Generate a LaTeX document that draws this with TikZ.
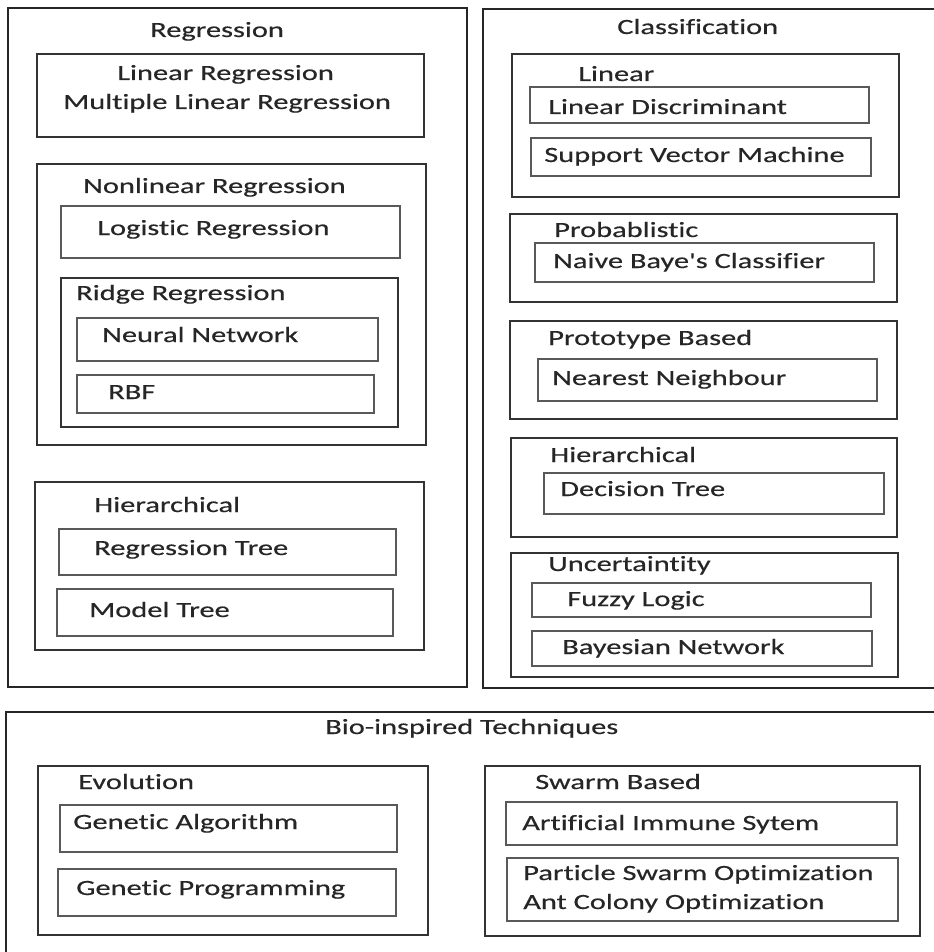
\documentclass[tikz,border=0pt]{standalone}
\usepackage{fontspec}
\setmainfont{Carlito}[FakeStretch=1.4,FakeBold=0.4,Ligatures={NoCommon,TeXOff}]
\begin{document}
\begin{tikzpicture}[x=0.75pt,y=-0.75pt,
  outer/.style={draw=black!85,line width=1.5pt},
  group/.style={draw=black!80,line width=1.4pt},
  item/.style={draw=black!65,line width=1.1pt},
  lbl/.style={anchor=base west,inner sep=0pt,text=black!85,font=\fontsize{16.3}{19}\selectfont}]
\clip (0,0) rectangle (934,952);
\fill[white] (0,0) rectangle (934,952);
% regression column
\draw[outer] (8,8) rectangle (467,687);
\node[lbl] (regr) at (150,37) {Regression};
\draw[group] (37,54) rectangle (424,137);
\node[lbl] (linreg) at (117,80) {Linear Regression};
\node[lbl] (mlinreg) at (63,109) {Multiple Linear Regression};
\draw[group] (37,164) rectangle (426,445);
\node[lbl] (nonlin) at (83,193) {Nonlinear Regression};
\draw[item] (61,206) rectangle (400,258);
\node[lbl] (logreg) at (97,235) {Logistic Regression};
\draw[group] (61,278) rectangle (398,427);
\node[lbl] (ridge) at (76,300) {Ridge Regression};
\draw[item] (77,318) rectangle (378,361);
\node[lbl] (neural) at (102,342) {Neural Network};
\draw[item] (77,375) rectangle (374,413);
\node[lbl] (rbf) at (108,399) {RBF};
\draw[group] (35,482) rectangle (424,650);
\node[lbl] (hierl) at (94,512) {Hierarchical};
\draw[item] (59,529) rectangle (396,575);
\node[lbl] (regtree) at (94,555) {Regression Tree};
\draw[item] (57,589) rectangle (393,636);
\node[lbl] (modtree) at (89,617) {Model Tree};
% classification column
\draw[outer] (483,9) rectangle (945,688);
\node[lbl] (clas) at (617,34) {Classification};
\draw[group] (512,54) rectangle (899,197);
\node[lbl] (lin) at (578,81) {Linear};
\draw[item] (530,87) rectangle (869,123);
\node[lbl] (lda) at (548,114) {Linear Discriminant};
\draw[item] (531,138) rectangle (871,176);
\node[lbl] (svm) at (544,162) {Support Vector Machine};
\draw[group] (510,214) rectangle (897,302);
\node[lbl] (prob) at (554,237) {Probablistic};
\draw[item] (535,243) rectangle (874,282);
\node[lbl] (naive) at (553,268) {Naive Baye's Classifier};
\draw[group] (510,321) rectangle (897,419);
\node[lbl] (proto) at (548,345) {Prototype Based};
\draw[item] (538,359) rectangle (877,401);
\node[lbl] (nn) at (552,385) {Nearest Neighbour};
\draw[group] (511,438) rectangle (897,537);
\node[lbl] (hierr) at (550,462) {Hierarchical};
\draw[item] (544,473) rectangle (884,514);
\node[lbl] (dtree) at (560,496) {Decision Tree};
\draw[group] (511,553) rectangle (898,677);
\node[lbl] (unc) at (548,571) {Uncertaintity};
\draw[item] (532,583) rectangle (871,617);
\node[lbl] (fuzzy) at (567,606) {Fuzzy Logic};
\draw[item] (532,631) rectangle (872,666);
\node[lbl] (bayes) at (562,654) {Bayesian Network};
% bio-inspired
\draw[outer] (6,712) rectangle (945,965);
\node[lbl] (bio) at (325,734) {Bio-inspired Techniques};
\draw[group] (38,766) rectangle (428,935);
\node[lbl] (evo) at (78,789) {Evolution};
\draw[item] (60,805) rectangle (397,852);
\node[lbl] (ga) at (73,829) {Genetic Algorithm};
\draw[item] (58,869) rectangle (396,916);
\node[lbl] (gp) at (76,895) {Genetic Programming};
\draw[group] (485,766) rectangle (920,936);
\node[lbl] (swarm) at (535,789) {Swarm Based};
\draw[item] (506,802) rectangle (897,845);
\node[lbl] (ais) at (522,830) {Artificial Immune Sytem};
\draw[item] (507,858) rectangle (898,921);
\node[lbl] (pso) at (523,880) {Particle Swarm Optimization};
\node[lbl] (aco) at (523,909) {Ant Colony Optimization};
\end{tikzpicture}
\end{document}
